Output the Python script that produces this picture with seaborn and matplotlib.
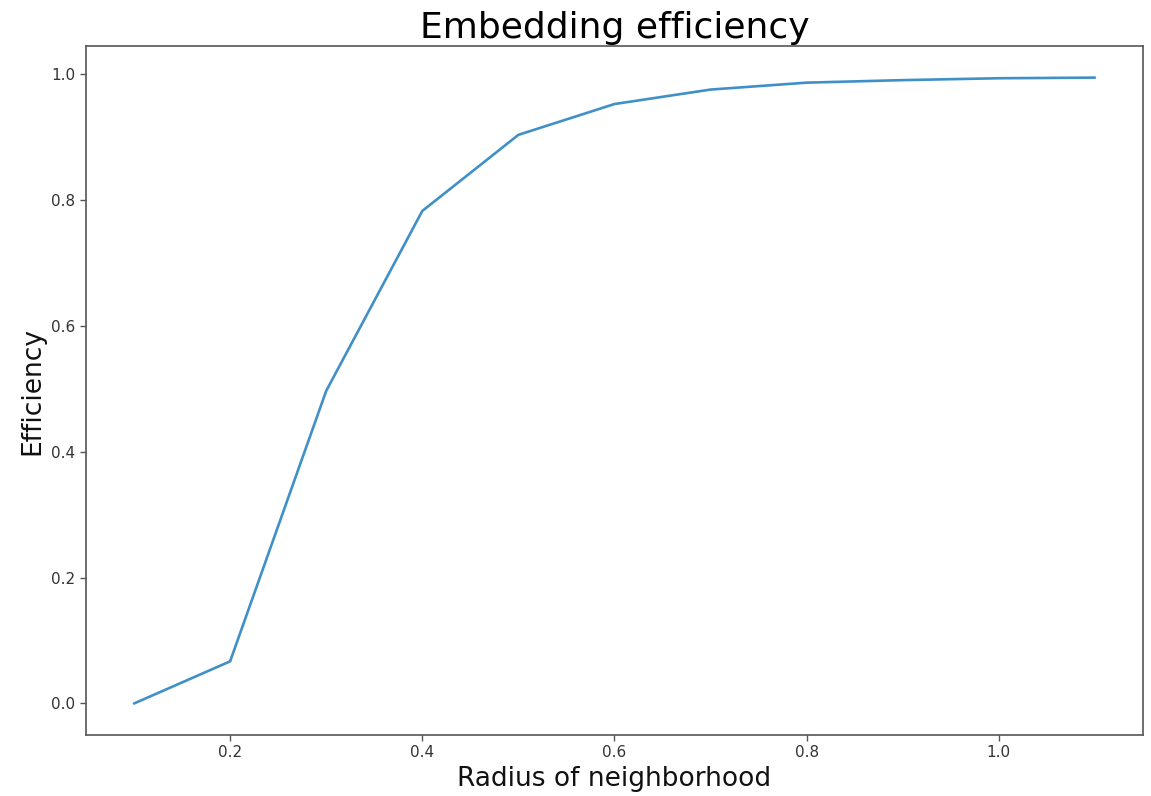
import matplotlib
matplotlib.use("Agg")
import matplotlib.pyplot as plt
import seaborn as sns
import pandas as pd

radius = [0.1, 0.2, 0.3, 0.4, 0.5, 0.6, 0.7, 0.8, 0.9, 1.0, 1.1]
efficiency = [0.0, 0.067, 0.497, 0.783, 0.904, 0.953, 0.976, 0.987, 0.991, 0.994, 0.995]

sns.set_style("white")
plt.rcParams['font.family'] = ['DejaVu Sans']
plt.rcParams['axes.edgecolor'] = '#555555'
plt.rcParams['axes.linewidth'] = 1.2

df = pd.DataFrame({"radius": radius, "efficiency": efficiency})

fig = plt.figure(figsize=(11.51, 7.96), dpi=100)
ax = fig.add_axes([0.0747, 0.0767, 0.9183, 0.8653])
sns.lineplot(data=df, x="radius", y="efficiency", ax=ax, color="#4090c8", linewidth=1.9)

ax.set_title("Embedding efficiency", fontsize=26, color='black')
ax.set_xlabel("Radius of neighborhood", fontsize=19, color='#111111')
ax.set_ylabel("Efficiency", fontsize=19, color='#111111')
ax.set_xticks([0.2, 0.4, 0.6, 0.8, 1.0])
ax.set_yticks([0.0, 0.2, 0.4, 0.6, 0.8, 1.0])
ax.tick_params(axis='both', labelsize=11, length=4, width=1, color='#555555', labelcolor='#333333', left=True, bottom=True)
ax.set_xlim(0.05, 1.15)
ax.set_ylim(-0.05, 1.045)
for s in ax.spines.values():
    s.set_visible(True)

fig.savefig("out.png", dpi=100)
